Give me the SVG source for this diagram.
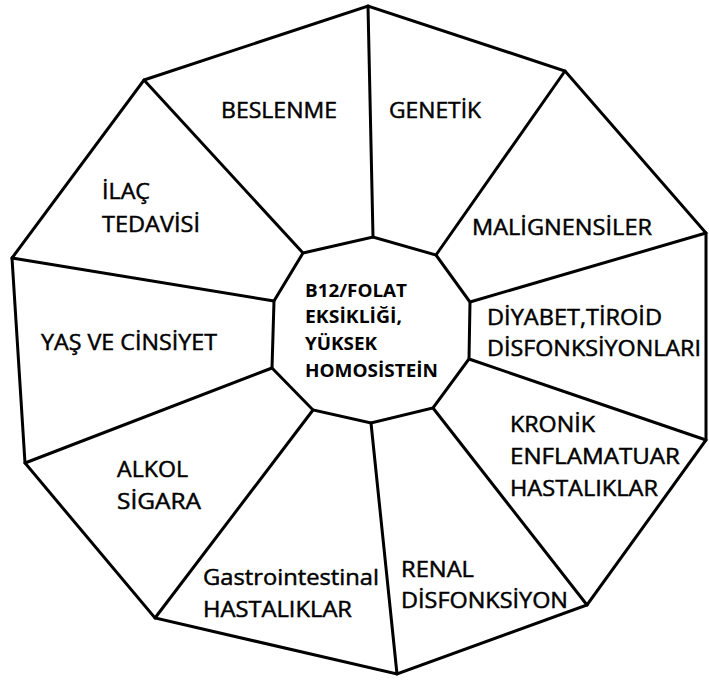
<svg xmlns="http://www.w3.org/2000/svg" width="709" height="681" viewBox="0 0 709 681">
<style>
.ln{fill:none;stroke:#000;stroke-width:3;stroke-linejoin:miter;stroke-linecap:round}
.t{font-family:"Open Sans","Liberation Sans",sans-serif;font-size:21px;fill:#000;stroke:#000;stroke-width:0.45}
.c{font-family:"Open Sans","Liberation Sans",sans-serif;font-size:17px;font-weight:bold;fill:#000}
</style>
<rect width="709" height="681" fill="#fff"/>
<g id="connectors">
<polygon class="ln" points="144,80 368,6 565,71 706,233 706,440 587,605 397,674 155,618 25,463 12,258"/>
<line class="ln" x1="303" y1="253" x2="144" y2="80"/>
<line class="ln" x1="373" y1="237" x2="368" y2="6"/>
<line class="ln" x1="436" y1="255" x2="565" y2="71"/>
<line class="ln" x1="470" y1="302" x2="706" y2="233"/>
<line class="ln" x1="469" y1="359" x2="706" y2="440"/>
<line class="ln" x1="433" y1="408" x2="587" y2="605"/>
<line class="ln" x1="371" y1="423" x2="397" y2="674"/>
<line class="ln" x1="313" y1="410" x2="155" y2="618"/>
<line class="ln" x1="272" y1="368" x2="25" y2="463"/>
<line class="ln" x1="274" y1="301" x2="12" y2="258"/>
</g>
<g id="center">
<polygon class="ln" points="303,253 373,237 436,255 470,302 469,359 433,408 371,423 313,410 272,368 274,301"/>
<text class="c" x="305" y="297" textLength="102" lengthAdjust="spacingAndGlyphs">B12/FOLAT</text>
<text class="c" x="305" y="323" textLength="97" lengthAdjust="spacingAndGlyphs">EKSİKLİĞİ,</text>
<text class="c" x="305" y="350" textLength="72" lengthAdjust="spacingAndGlyphs">YÜKSEK</text>
<text class="c" x="305" y="377" textLength="133" lengthAdjust="spacingAndGlyphs">HOMOSİSTEİN</text>
</g>
<g id="beslenme"><text class="t" x="221" y="118" textLength="116" lengthAdjust="spacingAndGlyphs">BESLENME</text></g>
<g id="genetik"><text class="t" x="389" y="118" textLength="92" lengthAdjust="spacingAndGlyphs">GENETİK</text></g>
<g id="malignensiler"><text class="t" x="472" y="235" textLength="180" lengthAdjust="spacingAndGlyphs">MALİGNENSİLER</text></g>
<g id="diyabet">
<text class="t" x="487" y="325" textLength="175" lengthAdjust="spacingAndGlyphs">DİYABET,TİROİD</text>
<text class="t" x="487" y="356" textLength="214" lengthAdjust="spacingAndGlyphs">DİSFONKSİYONLARI</text>
</g>
<g id="kronik">
<text class="t" x="510" y="432" textLength="85" lengthAdjust="spacingAndGlyphs">KRONİK</text>
<text class="t" x="510" y="464" textLength="170" lengthAdjust="spacingAndGlyphs">ENFLAMATUAR</text>
<text class="t" x="510" y="496" textLength="148" lengthAdjust="spacingAndGlyphs">HASTALIKLAR</text>
</g>
<g id="renal">
<text class="t" x="401" y="577" textLength="73" lengthAdjust="spacingAndGlyphs">RENAL</text>
<text class="t" x="401" y="608" textLength="167" lengthAdjust="spacingAndGlyphs">DİSFONKSİYON</text>
</g>
<g id="gastro">
<text class="t" x="203" y="585" textLength="176" lengthAdjust="spacingAndGlyphs">Gastrointestinal</text>
<text class="t" x="203" y="617" textLength="149" lengthAdjust="spacingAndGlyphs">HASTALIKLAR</text>
</g>
<g id="alkol">
<text class="t" x="117" y="477" textLength="71" lengthAdjust="spacingAndGlyphs">ALKOL</text>
<text class="t" x="117" y="509" textLength="84" lengthAdjust="spacingAndGlyphs">SİGARA</text>
</g>
<g id="yas"><text class="t" x="41" y="350" textLength="176" lengthAdjust="spacingAndGlyphs">YAŞ VE CİNSİYET</text></g>
<g id="ilac">
<text class="t" x="102" y="199" textLength="48" lengthAdjust="spacingAndGlyphs">İLAÇ</text>
<text class="t" x="102" y="232" textLength="98" lengthAdjust="spacingAndGlyphs">TEDAVİSİ</text>
</g>
</svg>
